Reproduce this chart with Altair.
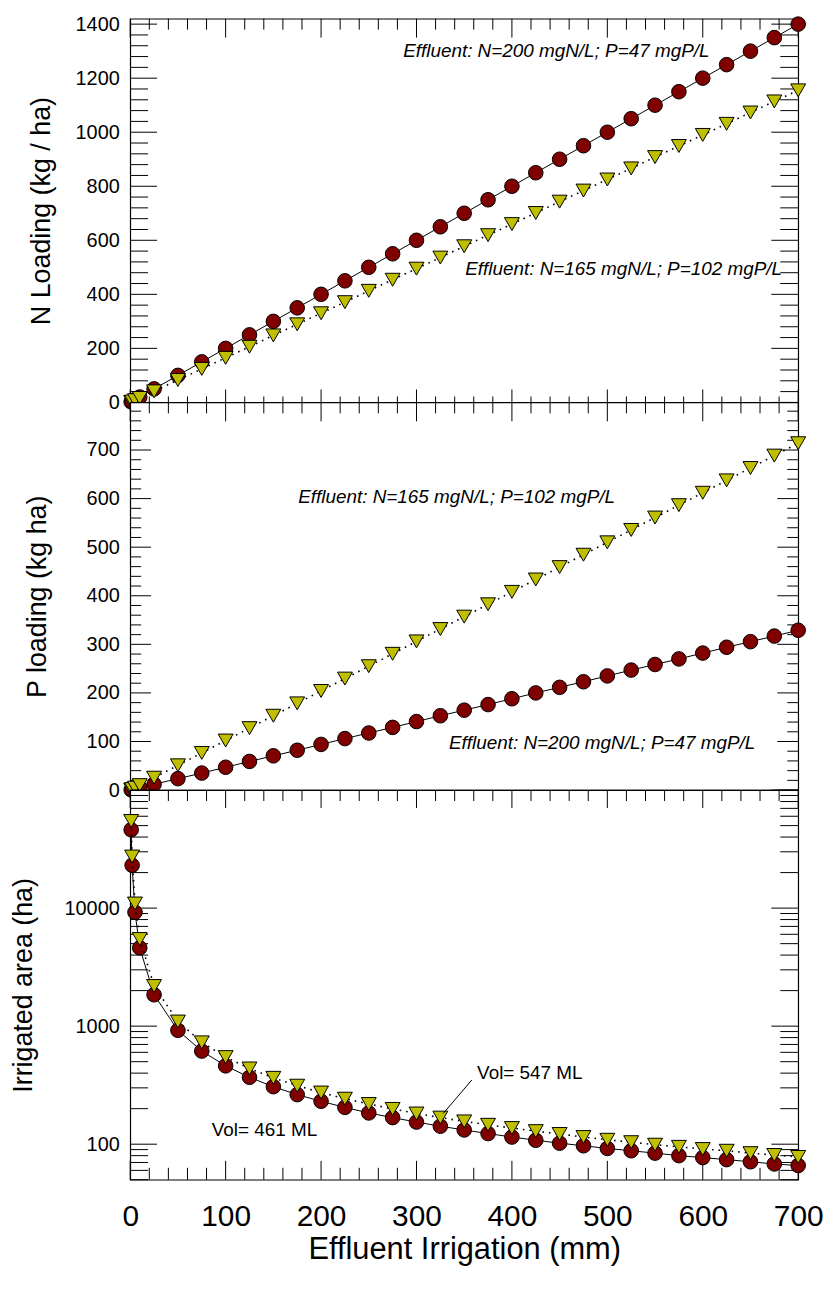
import altair as alt
import pandas as pd

FONT = "Liberation Sans"
RED = "#800000"
YEL = "#BFBF00"

# ---- data ----
x_mm = [1, 2, 5, 10, 25, 50, 75, 100, 125, 150, 175, 200, 225, 250, 275, 300,
        325, 350, 375, 400, 425, 450, 475, 500, 525, 550, 575, 600, 625, 650, 675, 700]
n_red = [2, 4, 10, 20, 50, 100, 150, 200, 250, 300, 350, 400, 450, 500, 550, 600,
         650, 700, 750, 800, 850, 900, 950, 1000, 1050, 1100, 1150, 1200, 1250, 1300, 1350, 1400]
n_yel = [1.7, 3.3, 8.3, 16.5, 41, 83, 124, 165, 206, 248, 289, 330, 371, 413, 454, 495,
         536, 578, 619, 660, 701, 743, 784, 825, 866, 908, 949, 990, 1031, 1073, 1114, 1155]
p_red = [0.5, 0.9, 2.4, 4.7, 12, 23.5, 35, 47, 59, 70.5, 82, 94, 106, 117.5, 129, 141,
         153, 164.5, 176, 188, 200, 211.5, 223, 235, 247, 258.5, 270, 282, 294, 305.5, 317, 329]
p_yel = [1, 2, 5.1, 10.2, 25.5, 51, 76.5, 102, 127.5, 153, 178.5, 204, 229.5, 255, 280.5, 306,
         331.5, 357, 382.5, 408, 433.5, 459, 484.5, 510, 535.5, 561, 586.5, 612, 637.5, 663, 688.5, 714]
a_red = [46100, 23050, 9220, 4610, 1844, 922, 615, 461, 369, 307, 263, 231, 205, 184, 168, 154,
         142, 132, 123, 115, 108, 102, 97, 92, 88, 84, 80, 77, 74, 71, 68, 66]
a_yel = [54700, 27350, 10940, 5470, 2188, 1094, 729, 547, 438, 365, 313, 274, 243, 219, 199, 182,
         168, 156, 146, 137, 129, 122, 115, 109, 104, 99, 95, 91, 88, 84, 81, 78]

x_labels = [0, 100, 200, 300, 400, 500, 600, 700]
x_minor = [v for v in range(20, 700, 20) if v % 100 != 0]
n_labels = [0, 200, 400, 600, 800, 1000, 1200, 1400]
n_minor = [v for v in range(40, 1420, 40) if v % 200 != 0]
p_labels = [0, 100, 200, 300, 400, 500, 600, 700]
p_minor = [v for v in range(20, 800, 20) if v % 100 != 0]
a_labels = [100, 1000, 10000]
a_minor = [m * d for d in (10, 100, 1000, 10000) for m in range(2, 10) if 50 <= m * d <= 100000]
a_major = [100, 1000, 10000, 100000]

lab_200_47 = "Effluent: N=200 mgN/L; P=47 mgP/L"
lab_165_102 = "Effluent: N=165 mgN/L; P=102 mgP/L"

W = 672
xs = alt.Scale(domain=[0, 700], nice=False, zero=False)


def tick_layers(ys, yax, xax, ymaj, ymin, h, ylen, top_len, bot_len):
    L = []
    for vals, ln in ((ymaj, ylen[0]), (ymin, ylen[1])):
        d = pd.DataFrame({"v": vals})
        Y = alt.Y("v:Q", scale=ys, axis=yax)
        L.append(alt.Chart(d).mark_rule(color="black", strokeWidth=1).encode(
            y=Y, x=alt.value(0), x2=alt.value(ln)))
        L.append(alt.Chart(d).mark_rule(color="black", strokeWidth=1).encode(
            y=Y, x=alt.value(W), x2=alt.value(W - ln)))
    for vals, i in ((x_labels, 0), (x_minor, 1)):
        d = pd.DataFrame({"v": vals})
        X = alt.X("v:Q", scale=xs, axis=xax)
        if top_len:
            L.append(alt.Chart(d).mark_rule(color="black", strokeWidth=1).encode(
                x=X, y=alt.value(0), y2=alt.value(top_len[i])))
        if bot_len:
            L.append(alt.Chart(d).mark_rule(color="black", strokeWidth=1).encode(
                x=X, y=alt.value(h), y2=alt.value(h - bot_len[i])))
    return L


def panel(h, ys, red, yel, ytitle, ylabels, ymaj, ymin, titlex, xaxis, notes,
          ylen, top_len, bot_len, extra=None):
    df = pd.DataFrame({"x": x_mm, "red": red, "yel": yel})
    yaxis = alt.Axis(values=ylabels, format="d", title=ytitle, labelFontSize=20,
                     titleFontSize=27, ticks=False, domain=False, grid=False,
                     labelPadding=11, titleX=titlex, titleBaseline="alphabetic",
                     labelOverlap=False, labelFlush=False, labelFont=FONT,
                     titleFont=FONT, titleFontWeight="normal", labelColor="black",
                     titleColor="black")
    X = alt.X("x:Q", scale=xs, axis=xaxis)
    base = alt.Chart(df)
    red_line = base.mark_line(color="black", strokeWidth=1).encode(
        x=X, y=alt.Y("red:Q", scale=ys, axis=yaxis))
    red_pts = base.mark_point(shape="circle", filled=True, fill=RED, stroke="black",
                              strokeWidth=1, size=215, opacity=1).encode(
        x=X, y=alt.Y("red:Q", scale=ys, axis=yaxis))
    yel_line = base.mark_line(color="black", strokeWidth=1.6, strokeDash=[1.6, 5]).encode(
        x=X, y=alt.Y("yel:Q", scale=ys, axis=yaxis))
    yel_pts = base.mark_point(shape="triangle-down", filled=True, fill=YEL, stroke="black",
                              strokeWidth=1, size=225, opacity=1).encode(
        x=X, y=alt.Y("yel:Q", scale=ys, axis=yaxis))
    nd = pd.DataFrame(notes)
    txt_layers = []
    for style in ("italic", "normal"):
        sub = nd[nd["style"] == style]
        if len(sub):
            txt_layers.append(alt.Chart(sub).mark_text(
                align="left", baseline="alphabetic", fontSize=19, font=FONT,
                fontStyle=style, color="black").encode(
                x=alt.X("x:Q", scale=xs, axis=xaxis),
                y=alt.Y("y:Q", scale=ys, axis=yaxis),
                text="t:N"))
    layers = [red_line]
    layers += tick_layers(ys, yaxis, xaxis, ymaj, ymin, h, ylen, top_len, bot_len)
    layers += [red_pts, yel_line, yel_pts] + txt_layers
    if extra is not None:
        layers.append(extra(yaxis))
    return alt.layer(*layers).properties(width=W, height=h)


# top: N loading
ys_n = alt.Scale(domain=[0, 1420], nice=False, zero=False)
top = panel(386, ys_n, n_red, n_yel, "N Loading (kg / ha)", n_labels, n_labels, n_minor,
            -81, None,
            {"x": [286, 351], "y": [1278, 472], "t": [lab_200_47, lab_165_102],
             "style": ["italic", "italic"]},
            (27, 18), (19, 11), (13, 6))

# middle: P loading
ys_p = alt.Scale(domain=[0, 798], nice=False, zero=False)
mid = panel(390, ys_p, p_red, p_yel, "P loading (kg ha)", p_labels, p_labels, p_minor,
            -85, None,
            {"x": [176, 334], "y": [591, 84], "t": [lab_165_102, lab_200_47],
             "style": ["italic", "italic"]},
            (21, 11), (19, 11), None)

# bottom: irrigated area (log)
ys_a = alt.Scale(type="log", domain=[50, 100000], nice=False)
xaxis = alt.Axis(values=x_labels, format="d", title="Effluent Irrigation (mm)",
                 labelFontSize=30, titleFontSize=31, ticks=False, domain=False,
                 grid=False, labelPadding=22, titlePadding=3, labelFlush=False,
                 labelOverlap=False, labelFont=FONT, titleFont=FONT,
                 titleFontWeight="normal", labelColor="black", titleColor="black")
leader = pd.DataFrame({"x1": [358], "y1": [350], "x2": [328], "y2": [182]})


def leader_rule(yax):
    return alt.Chart(leader).mark_rule(color="black", strokeWidth=1).encode(
        x=alt.X("x1:Q", scale=xs, axis=xaxis), x2="x2:Q",
        y=alt.Y("y1:Q", scale=ys_a, axis=yax), y2="y2:Q")


bot = panel(392, ys_a, a_red, a_yel, "Irrigated area (ha)", a_labels, a_major, a_minor,
            -99, xaxis,
            {"x": [363.5, 85.4], "y": [358, 117], "t": ["Vol= 547 ML", "Vol= 461 ML"],
             "style": ["normal", "normal"]},
            (27, 18), (18, 11), (19, 12), extra=leader_rule)

chart = alt.vconcat(top, mid, bot, spacing=0, bounds="flush").properties(
    padding={"left": 9, "top": 9, "right": 5, "bottom": 5},
    background="white",
).configure_view(stroke="black", strokeWidth=1.2, fill="white").configure_text(font=FONT)

chart.save("out.html", embed_options={"renderer": "svg", "actions": False})
